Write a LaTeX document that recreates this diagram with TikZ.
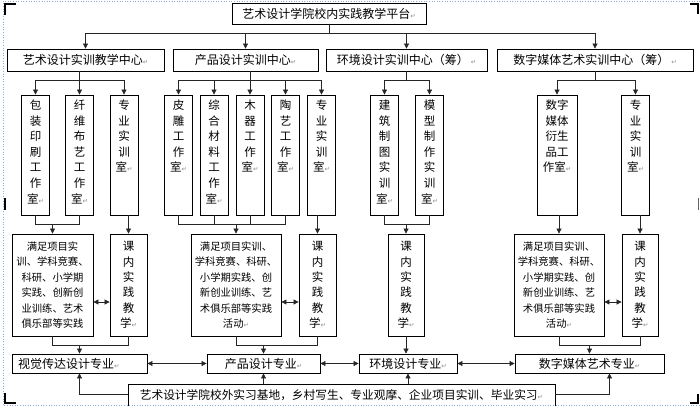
\documentclass[tikz,border=0pt]{standalone}
\usepackage{fontspec}
\setmainfont{Noto Sans CJK SC}
\newfontfamily\retfont{DejaVu Sans}
\usetikzlibrary{positioning,arrows.meta}
\definecolor{framecol}{RGB}{140,172,218}
\newcommand{\retmk}{{\retfont\fontsize{6.5}{6.5}\selectfont\textcolor{black!45}{↵}}}
\tikzset{
	box/.style={draw,line width=0.8pt,inner sep=0pt,font=\fontsize{12}{14}\selectfont},
	hub/.style={box,minimum height=22pt},
	room/.style={box,align=center,text width=#1,inner xsep=1pt,inner ysep=0pt,text height=15pt,text depth=105pt,font=\fontsize{11.5}{15.5}\selectfont},
	room/.default=26pt,
	task/.style={box,align=center,minimum height=102pt,font=\fontsize{10.3}{15.4}\selectfont},
	lesson/.style={box,align=center,minimum height=102pt,font=\fontsize{11.5}{15.4}\selectfont},
	major/.style={box,minimum height=19pt},
	base/.style={box,minimum width=427pt,inner ysep=0pt,text height=15.4pt,text depth=12.6pt,font=\fontsize{11.7}{14}\selectfont},
	link/.style={line width=0.7pt,black!85},
	arr/.style={link,-{Triangle[length=5pt,width=5pt]}},
	dbl/.style={link,{Triangle[length=5pt,width=5pt]}-{Triangle[length=5pt,width=5pt]}},
	frame/.style={framecol,dotted,line width=0.6pt}
}
\begin{document}
\begin{tikzpicture}[x=1pt,y=-1pt,on grid]
		\path[use as bounding box] (0,0) rectangle (700,409);
		\node[base](b) at (341.5,398) {艺术设计学院校外实习基地，乡村写生、专业观摩、企业项目实训、毕业实习\retmk};
		\fill[white] (0,405.5) rectangle (700,420);
		\draw[frame] (700,1) -- (3,1) -- (3,405) -- (700,405);
		\draw[line width=2pt] (5,15) -- (5,4) -- (16,4);
		\draw[line width=2pt] (690,4) -- (698,4) -- (698,14);
		\draw[line width=2pt] (5,393) -- (5,403) -- (16,403);
		\draw[line width=2pt] (690,403) -- (698,403) -- (698,394);
		\draw[line width=2pt] (5,198) -- (5,210);
		\draw[line width=0.8pt,black!60] (698,198) -- (698,210);
		\node[hub,minimum width=194pt,minimum height=21pt](top) at (329,13.5) {艺术设计学院校内实践教学平台\retmk};
		\node[hub,minimum width=157pt](c1) at (85.5,60) {艺术设计实训教学中心\retmk};
		\node[hub,minimum width=145pt](c2)[right=160pt of c1] {产品设计实训中心\retmk};
		\node[hub,minimum width=161pt](c3)[right=161pt of c2] {环境设计实训中心（筹）\,\retmk};
		\node[hub,minimum width=196pt](c4)[right=188.5pt of c3] {数字媒体艺术实训中心（筹）\,\retmk};
		\node[room](s11) at (35.5,155) {包\\装\\印\\刷\\工\\作\\室\retmk};
		\node[room](s12)[right=44pt of s11] {纤\\维\\布\\艺\\工\\作\\室\retmk};
		\node[room](s13)[right=44.5pt of s12] {专\\业\\实\\训\\室\retmk};
		\node[room](s21) at (178.5,155) {皮\\雕\\工\\作\\室\retmk};
		\node[room](s22)[right=35.5pt of s21] {综\\合\\材\\料\\工\\作\\室\retmk};
		\node[room](s23)[right=36pt of s22] {木\\器\\工\\作\\室\retmk};
		\node[room](s24)[right=35.5pt of s23] {陶\\艺\\工\\作\\室\retmk};
		\node[room](s25)[right=36pt of s24] {专\\业\\实\\训\\室\retmk};
		\node[room](s31) at (384.5,155) {建\\筑\\制\\图\\实\\训\\室\retmk};
		\node[room](s32)[right=45pt of s31] {模\\型\\制\\作\\实\\训\\室\retmk};
		\node[room=38pt](s41) at (557,155) {数字\\媒体\\衍生\\品工\\作室\retmk};
		\node[room](s42)[right=78.5pt of s41] {专\\业\\实\\训\\室\retmk};
		\node[task,minimum width=81pt](p1) at (52.5,285) {满足项目实\\训、学科竞赛、\\科研、小学期\\实践、创新创\\业训练、艺术\\俱乐部等实践};
		\node[lesson,minimum width=37pt](k1)[right=76pt of p1] {课\\内\\实\\践\\教\\学\retmk};
		\node[task,minimum width=90pt](p2) at (236,285) {满足项目实训、\\学科竞赛、科研、\\小学期实践、创\\新创业训练、艺\\术俱乐部等实践\\活动\retmk};
		\node[lesson,minimum width=37pt](k2)[right=81.5pt of p2] {课\\内\\实\\践\\教\\学\retmk};
		\node[lesson,minimum width=36pt](k3) at (406,285) {课\\内\\实\\践\\教\\学\retmk};
		\node[task,minimum width=90pt](p4) at (559,285) {满足项目实训、\\学科竞赛、科研、\\小学期实践、创\\新创业训练、艺\\术俱乐部等实践\\活动\retmk};
		\node[lesson,minimum width=36pt](k4)[right=81pt of p4] {课\\内\\实\\践\\教\\学\retmk};
		\node[major,text width=123pt,align=left,inner xsep=6pt](m1) at (79.5,363.5) {视觉传达设计专业\retmk};
		\node[major,minimum width=113pt](m2)[right=184pt of m1] {产品设计专业\retmk};
		\node[major,minimum width=98pt](m3)[right=144.5pt of m2] {环境设计专业\retmk};
		\node[major,minimum width=149pt](m4)[right=181.5pt of m3] {数字媒体艺术专业\retmk};
		\coordinate (ytop) at (0,33);
		\coordinate (ybus) at (0,80);
		\coordinate (ymerge) at (0,224);
		\coordinate (ymid) at (0,302);
		\coordinate (ylow) at (0,345);
		\draw[link] (top.south) -- (top.south |- ytop);
		\draw[link] (c1.north |- ytop) -- (c4.north |- ytop);
		\path[arr]
		(c1.north |- ytop) edge (c1.north)
		(c2.north |- ytop) edge (c2.north)
		(c3.north |- ytop) edge (c3.north)
		(c4.north |- ytop) edge (c4.north);
		\draw[arr] (c1.south -| s12.north) -- (s12.north);
		\draw[arr] (s12.north |- ybus) -| (s11.north);
		\draw[arr] (s12.north |- ybus) -| (s13.north);
		\draw[arr] (c2.south -| s23.north) -- (s23.north);
		\draw[link] (s21.north |- ybus) -- (s25.north |- ybus);
		\path[arr]
		(s21.north |- ybus) edge (s21.north)
		(s22.north |- ybus) edge (s22.north)
		(s24.north |- ybus) edge (s24.north)
		(s25.north |- ybus) edge (s25.north);
		\draw[link] (c3.south) -- (c3.south |- ybus);
		\draw[arr] (c3.south |- ybus) -| (s31.north);
		\draw[arr] (c3.south |- ybus) -| (s32.north);
		\draw[link] (c4.south) -- (c4.south |- ybus);
		\draw[arr] (c4.south |- ybus) -| (s41.north);
		\draw[arr] (c4.south |- ybus) -| (s42.north);
		\draw[link] (s11.south) |- (s12.south |- ymerge) -- (s12.south);
		\draw[arr] (p1.north |- ymerge) -- (p1.north);
		\draw[arr] (s13.south -| k1.north) -- (k1.north);
		\draw[link] (s21.south) |- (s24.south |- ymerge) -- (s24.south);
		\path[link]
		(s22.south) edge (s22.south |- ymerge)
		(s23.south) edge (s23.south |- ymerge);
		\draw[arr] (p2.north |- ymerge) -- (p2.north);
		\draw[arr] (s25.south -| k2.north) -- (k2.north);
		\draw[link] (s31.south) |- (s32.south |- ymerge) -- (s32.south);
		\draw[arr] (k3.north |- ymerge) -- (k3.north);
		\draw[arr] (s41.south -| p4.north) -- (p4.north);
		\draw[arr] (s42.south -| k4.north) -- (k4.north);
		\path[dbl]
		(p1.east |- ymid) edge (k1.west |- ymid)
		(p2.east |- ymid) edge (k2.west |- ymid)
		(p4.east |- ymid) edge (k4.west |- ymid);
		\draw[link] (p1.south) |- (k1.south |- ylow) -- (k1.south);
		\draw[arr] (m1.north |- ylow) -- (m1.north);
		\draw[link] (p2.south) |- (k2.south |- ylow) -- (k2.south);
		\draw[arr] (m2.north |- ylow) -- (m2.north);
		\draw[arr] (k3.south) -- (k3.south |- m3.north);
		\draw[link] (p4.south) |- (k4.south |- ylow) -- (k4.south);
		\draw[arr] (m4.north |- ylow) -- (m4.north);
		\path[dbl]
		(m1) edge (m2)
		(m2) edge (m3)
		(m3) edge (m4);
		\draw[arr] ([yshift=3.5pt]b.west) -| (m1.south);
		\draw[arr] (b.north -| m2.south) -- (m2.south);
		\draw[arr] (b.north -| m3.south) -- (m3.south);
		\draw[arr] ([yshift=3.5pt]b.east) -| ([xshift=20pt]m4.south);
\end{tikzpicture}
\end{document}
